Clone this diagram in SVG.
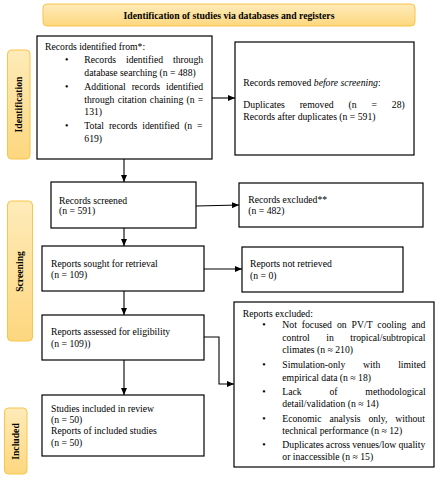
<svg xmlns="http://www.w3.org/2000/svg" width="440" height="480" viewBox="0 0 440 480">
<defs>
<linearGradient id="gold" x1="0" y1="0" x2="0" y2="1">
<stop offset="0" stop-color="#feebb9"/>
<stop offset="1" stop-color="#fdd77f"/>
</linearGradient>
<marker id="arr" markerUnits="userSpaceOnUse" markerWidth="7" markerHeight="6" refX="7" refY="3" orient="auto">
<path d="M0,0 L7,3 L0,6 z" fill="#000"/>
</marker>
<style>
.box{fill:#fff;stroke:#000;stroke-width:1.2}
.tag{fill:url(#gold);stroke:#f7c548;stroke-width:1}
.t{font-family:"Liberation Serif","Times New Roman",serif;font-size:9.7px;fill:#000}
.b{font-weight:bold}
.c{text-anchor:middle}
.con{fill:none;stroke:#000;stroke-width:1.1;marker-end:url(#arr)}
</style>
</defs>
<rect width="440" height="480" fill="#fff"/>

<g id="header">
<rect class="tag" x="43" y="4" width="372" height="22" rx="4"/>
<text class="t b c" x="229" y="19.3">Identification of studies via databases and registers</text>
</g>

<g id="tag-identification">
<rect class="tag" x="7.5" y="50" width="22.5" height="109" rx="4"/>
<text class="t b c" transform="translate(22.3,104.5) rotate(-90)">Identification</text>
</g>
<g id="tag-screening">
<rect class="tag" x="7.5" y="201" width="25" height="140" rx="4"/>
<text class="t b c" transform="translate(22.6,271.5) rotate(-90)">Screening</text>
</g>
<g id="tag-included">
<rect class="tag" x="4.5" y="408" width="22.5" height="66" rx="4"/>
<text class="t b c" transform="translate(19.3,441.5) rotate(-90)">Included</text>
</g>

<g id="identified">
<rect class="box" x="37" y="36" width="175" height="123"/>
<text class="t" x="45" y="50">Records identified from*:</text>
<text class="t c" x="66.7" y="63.3">•</text>
<text class="t" x="84.3" y="63.3" word-spacing="7.5">Records identified through</text>
<text class="t" x="84.3" y="76">database searching (n = 488)</text>
<text class="t c" x="66.7" y="90">•</text>
<text class="t" x="84.3" y="90" word-spacing="3.47">Additional records identified</text>
<text class="t" x="84.3" y="103.3" word-spacing="0.77">through citation chaining (n =</text>
<text class="t" x="84.3" y="115">131)</text>
<text class="t c" x="66.7" y="129.3">•</text>
<text class="t" x="84.3" y="129.3" word-spacing="2.39">Total records identified (n =</text>
<text class="t" x="84.3" y="141.6">619)</text>
</g>

<g id="removed">
<rect class="box" x="235" y="42" width="179" height="113"/>
<text class="t" x="243.3" y="86">Records removed <tspan font-style="italic">before screening</tspan>:</text>
<text class="t" x="243.3" y="108.3" word-spacing="12.5">Duplicates removed (n = 28)</text>
<text class="t" x="243.3" y="119.5">Records after duplicates (n = 591)</text>
</g>

<g id="screened">
<rect class="box" x="51" y="182" width="145" height="46"/>
<text class="t" x="59" y="203.5">Records screened</text>
<text class="t" x="59" y="214.3">(n = 591)</text>
</g>

<g id="excluded">
<rect class="box" x="239" y="183" width="184" height="44"/>
<text class="t" x="248.3" y="202.8">Records excluded**</text>
<text class="t" x="248.3" y="214.2">(n = 482)</text>
</g>

<g id="sought">
<rect class="box" x="42" y="246" width="162" height="45"/>
<text class="t" x="51" y="266.8">Reports sought for retrieval</text>
<text class="t" x="51" y="277.8">(n = 109)</text>
</g>

<g id="not-retrieved">
<rect class="box" x="242" y="247" width="161" height="45"/>
<text class="t" x="250" y="267.3">Reports not retrieved</text>
<text class="t" x="250" y="278.5">(n = 0)</text>
</g>

<g id="assessed">
<rect class="box" x="42" y="315" width="162" height="45"/>
<text class="t" x="51" y="335">Reports assessed for eligibility</text>
<text class="t" x="51" y="346.7">(n = 109))</text>
</g>

<g id="reports-excluded">
<rect class="box" x="234" y="302" width="200" height="165"/>
<text class="t" x="242.7" y="316.6">Reports excluded:</text>
<text class="t c" x="264" y="328.3">•</text>
<text class="t" x="282.3" y="328.3" word-spacing="2.55">Not focused on PV/T cooling and</text>
<text class="t" x="282.3" y="341" word-spacing="14.05">control in tropical/subtropical</text>
<text class="t" x="282.3" y="353.3">climates (n ≈ 210)</text>
<text class="t c" x="264" y="368.3">•</text>
<text class="t" x="282.3" y="368.3" word-spacing="15.4">Simulation-only with limited</text>
<text class="t" x="282.3" y="380.6">empirical data (n ≈ 18)</text>
<text class="t c" x="264" y="395">•</text>
<text class="t" x="282.3" y="395" word-spacing="25.4">Lack of methodological</text>
<text class="t" x="282.3" y="407.3">detail/validation (n ≈ 14)</text>
<text class="t c" x="264" y="421.6">•</text>
<text class="t" x="282.3" y="421.6" word-spacing="5.4">Economic analysis only, without</text>
<text class="t" x="282.3" y="434.3">technical performance (n ≈ 12)</text>
<text class="t c" x="264" y="448.3">•</text>
<text class="t" x="282.3" y="448.3" word-spacing="-0.3">Duplicates across venues/low quality</text>
<text class="t" x="282.3" y="460">or inaccessible (n ≈ 15)</text>
</g>

<g id="included">
<rect class="box" x="42" y="395" width="162" height="61"/>
<text class="t" x="51" y="412.3">Studies included in review</text>
<text class="t" x="51" y="423.3">(n = 50)</text>
<text class="t" x="51" y="434.3">Reports of included studies</text>
<text class="t" x="51" y="445.6">(n = 50)</text>
</g>

<g id="connectors">
<path class="con" d="M212,98 H235"/>
<path class="con" d="M124,159 V182"/>
<path class="con" d="M196,206 L239,205"/>
<path class="con" d="M124,228 V246"/>
<path class="con" d="M204,269 H242"/>
<path class="con" d="M124,291 V315"/>
<path class="con" d="M204,337 H219 V384 H234"/>
<path class="con" d="M124,360 V395"/>
</g>
</svg>
